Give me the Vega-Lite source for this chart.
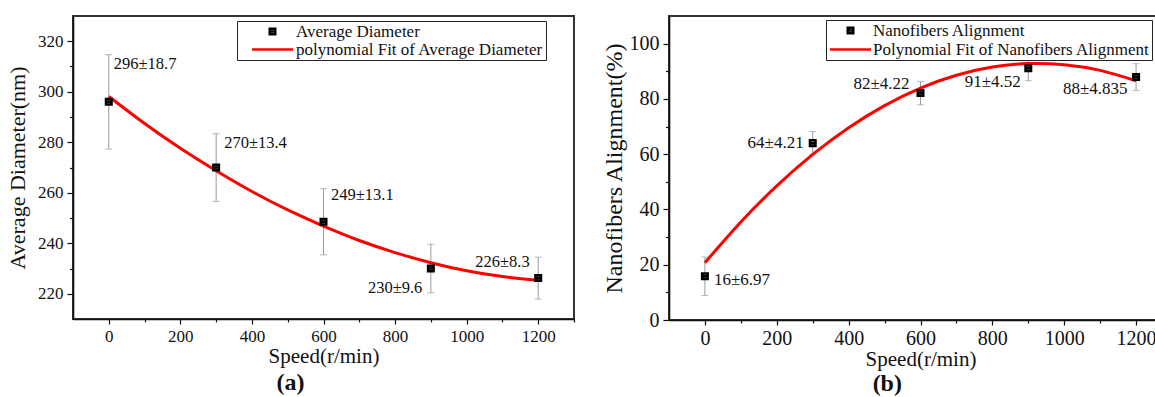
{
  "$schema": "https://vega.github.io/schema/vega-lite/v6.json",
  "background": "white",
  "padding": {"left": 5, "top": 15, "right": 0, "bottom": 0},
  "spacing": 24,
  "resolve": {"scale": {"shape": "independent", "color": "independent"}, "legend": {"shape": "independent", "color": "independent"}},
  "config": {
    "font": "Liberation Serif",
    "view": {"stroke": "#333", "strokeWidth": 2},
    "axis": {"grid": false, "domainColor": "#111", "domainWidth": 1.6, "tickColor": "#111", "tickWidth": 1.2, "labelColor": "#111", "titleColor": "#111", "titleFontWeight": "normal", "labelFont": "Liberation Serif", "titleFont": "Liberation Serif", "labelFlush": false, "labelOverlap": false},
    "title": {"font": "Liberation Serif", "color": "#111"}
  },
  "datasets": {
    "diam": [
      {"speed": 0, "diameter": 296, "err": 18.7, "label": "296±18.7", "series": "Average Diameter"},
      {"speed": 300, "diameter": 270, "err": 13.4, "label": "270±13.4", "series": "Average Diameter"},
      {"speed": 600, "diameter": 248.5, "err": 13.1, "label": "249±13.1", "series": "Average Diameter"},
      {"speed": 900, "diameter": 230, "err": 9.6, "label": "230±9.6", "series": "Average Diameter"},
      {"speed": 1200, "diameter": 226.2, "err": 8.3, "label": "226±8.3", "series": "Average Diameter"}
    ],
    "diamfit": [
      {"speed": 0, "diameter": 298.1},
      {"speed": 100, "diameter": 287.4},
      {"speed": 200, "diameter": 277.6},
      {"speed": 300, "diameter": 268.7},
      {"speed": 400, "diameter": 260.5},
      {"speed": 500, "diameter": 253.2},
      {"speed": 600, "diameter": 246.8},
      {"speed": 700, "diameter": 241.1},
      {"speed": 800, "diameter": 236.3},
      {"speed": 900, "diameter": 232.3},
      {"speed": 1000, "diameter": 229.1},
      {"speed": 1100, "diameter": 226.8},
      {"speed": 1200, "diameter": 225.3}
    ],
    "align": [
      {"speed": 0, "alignment": 15.8, "err": 6.97, "label": "16±6.97", "series": "Nanofibers Alignment"},
      {"speed": 300, "alignment": 64, "err": 4.21, "label": "64±4.21", "series": "Nanofibers Alignment"},
      {"speed": 600, "alignment": 82.1, "err": 4.22, "label": "82±4.22", "series": "Nanofibers Alignment"},
      {"speed": 900, "alignment": 91.1, "err": 4.52, "label": "91±4.52", "series": "Nanofibers Alignment"},
      {"speed": 1200, "alignment": 87.9, "err": 4.835, "label": "88±4.835", "series": "Nanofibers Alignment"}
    ],
    "alignfit": [
      {"speed": 0, "alignment": 20.75},
      {"speed": 100, "alignment": 35.48},
      {"speed": 200, "alignment": 48.53},
      {"speed": 300, "alignment": 59.9},
      {"speed": 400, "alignment": 69.59},
      {"speed": 500, "alignment": 77.59},
      {"speed": 600, "alignment": 83.92},
      {"speed": 700, "alignment": 88.56},
      {"speed": 800, "alignment": 91.52},
      {"speed": 900, "alignment": 92.8},
      {"speed": 1000, "alignment": 92.4},
      {"speed": 1100, "alignment": 90.32},
      {"speed": 1200, "alignment": 86.55}
    ]
  },
  "hconcat": [
    {
      "width": 501,
      "height": 303,
      "title": {"text": "(a)", "orient": "bottom", "anchor": "middle", "frame": "bounds", "fontSize": 24, "fontWeight": "bold", "offset": 4},
      "encoding": {
        "x": {"field": "speed", "type": "quantitative", "scale": {"domain": [-100, 1300], "nice": false, "zero": false},
          "axis": {"title": "Speed(r/min)", "format": "d", "values": [0, 100, 200, 300, 400, 500, 600, 700, 800, 900, 1000, 1100, 1200, 1300],
            "labelExpr": "datum.value % 200 === 0 && datum.value <= 1200 ? datum.label : ''",
            "tickSize": {"condition": {"test": "datum.value % 200 === 0", "value": 5}, "value": 3},
            "labelFontSize": 17, "labelPadding": 4, "titleFontSize": 21, "titlePadding": 1.5}},
        "y": {"field": "diameter", "type": "quantitative", "scale": {"domain": [210, 330], "nice": false, "zero": false},
          "axis": {"title": "Average Diameter(nm)", "values": [220, 230, 240, 250, 260, 270, 280, 290, 300, 310, 320],
            "labelExpr": "datum.value % 20 === 0 ? datum.label : ''",
            "tickSize": {"condition": {"test": "datum.value % 20 === 0", "value": 6}, "value": 3.5},
            "labelFontSize": 17, "labelPadding": 4, "titleFontSize": 22, "titlePadding": 8}}
      },
      "layer": [
        {"data": {"name": "diam"}, "mark": {"type": "errorbar", "ticks": {"size": 7}, "color": "#9a9a9a", "thickness": 1},
          "encoding": {"yError": {"field": "err"}}},
        {"data": {"name": "diamfit"}, "mark": {"type": "line", "color": "#ff0000", "strokeWidth": 3, "interpolate": "natural"}},
        {"data": {"name": "diam"}, "mark": {"type": "point", "filled": false, "strokeWidth": 2.5, "size": 105, "opacity": 1},
          "encoding": {
            "color": {"field": "series", "type": "nominal",
              "scale": {"domain": ["Average Diameter", "polynomial Fit of Average Diameter"], "range": ["#000000", "#ff0000"]}},
            "shape": {"field": "series", "type": "nominal",
            "scale": {"domain": ["Average Diameter", "polynomial Fit of Average Diameter"], "range": ["M-0.54,-0.54H0.54V0.54H-0.54Z M-0.54,0H0.54", "M-4,0H4"]},
            "legend": {"title": null, "orient": "none", "legendX": 164, "legendY": 5, "strokeColor": "#222", "fillColor": "white", "padding": 2,
              "labelFont": "Liberation Serif", "labelFontSize": 17, "labelColor": "#111", "labelLimit": 500,
              "symbolSize": 105, "symbolStrokeWidth": 2.5, "symbolOffset": 25, "labelOffset": 15, "rowPadding": 0}}}},
        {"data": {"name": "diam"}, "transform": [{"filter": "datum.speed === 0"}], "mark": {"type": "text", "align": "left", "baseline": "middle", "dx": 5, "dy": -38, "fontSize": 16.5, "color": "#111"}, "encoding": {"text": {"field": "label"}}},
        {"data": {"name": "diam"}, "transform": [{"filter": "datum.speed === 300"}], "mark": {"type": "text", "align": "left", "baseline": "middle", "dx": 8, "dy": -25, "fontSize": 16.5, "color": "#111"}, "encoding": {"text": {"field": "label"}}},
        {"data": {"name": "diam"}, "transform": [{"filter": "datum.speed === 600"}], "mark": {"type": "text", "align": "left", "baseline": "middle", "dx": 7.5, "dy": -27, "fontSize": 16.5, "color": "#111"}, "encoding": {"text": {"field": "label"}}},
        {"data": {"name": "diam"}, "transform": [{"filter": "datum.speed === 900"}], "mark": {"type": "text", "align": "right", "baseline": "middle", "dx": -8.5, "dy": 19, "fontSize": 16.5, "color": "#111"}, "encoding": {"text": {"field": "label"}}},
        {"data": {"name": "diam"}, "transform": [{"filter": "datum.speed === 1200"}], "mark": {"type": "text", "align": "right", "baseline": "middle", "dx": -8.5, "dy": -16, "fontSize": 16.5, "color": "#111"}, "encoding": {"text": {"field": "label"}}}
      ]
    },
    {
      "width": 503,
      "height": 304,
      "title": {"text": "(b)", "orient": "bottom", "anchor": "middle", "frame": "bounds", "fontSize": 24, "fontWeight": "bold", "offset": 3},
      "encoding": {
        "x": {"field": "speed", "type": "quantitative", "scale": {"domain": [-100, 1300], "nice": false, "zero": false},
          "axis": {"title": "Speed(r/min)", "format": "d", "values": [0, 100, 200, 300, 400, 500, 600, 700, 800, 900, 1000, 1100, 1200, 1300],
            "labelExpr": "datum.value % 200 === 0 && datum.value <= 1200 ? datum.label : ''",
            "tickSize": {"condition": {"test": "datum.value % 200 === 0", "value": 5}, "value": 3},
            "labelFontSize": 20, "labelPadding": 3, "titleFontSize": 21, "titlePadding": 0}},
        "y": {"field": "alignment", "type": "quantitative", "scale": {"domain": [0, 110], "nice": false, "zero": false},
          "axis": {"title": "Nanofibers Alignment(%)", "values": [0, 10, 20, 30, 40, 50, 60, 70, 80, 90, 100],
            "labelExpr": "datum.value % 20 === 0 ? datum.label : ''",
            "tickSize": {"condition": {"test": "datum.value % 20 === 0", "value": 6}, "value": 3.5},
            "labelFontSize": 20, "labelPadding": 4, "titleFontSize": 24, "titlePadding": 3}}
      },
      "layer": [
        {"data": {"name": "align"}, "mark": {"type": "errorbar", "ticks": {"size": 7}, "color": "#9a9a9a", "thickness": 1},
          "encoding": {"yError": {"field": "err"}}},
        {"data": {"name": "alignfit"}, "mark": {"type": "line", "color": "#ff0000", "strokeWidth": 3, "interpolate": "natural"}},
        {"data": {"name": "align"}, "mark": {"type": "point", "filled": false, "strokeWidth": 2.5, "size": 105, "opacity": 1},
          "encoding": {
            "color": {"field": "series", "type": "nominal",
              "scale": {"domain": ["Nanofibers Alignment", "Polynomial Fit of Nanofibers Alignment"], "range": ["#000000", "#ff0000"]}},
            "shape": {"field": "series", "type": "nominal",
            "scale": {"domain": ["Nanofibers Alignment", "Polynomial Fit of Nanofibers Alignment"], "range": ["M-0.54,-0.54H0.54V0.54H-0.54Z M-0.54,0H0.54", "M-4,0H4"]},
            "legend": {"title": null, "orient": "none", "legendX": 157, "legendY": 4, "strokeColor": "#222", "fillColor": "white", "padding": 2,
              "labelFont": "Liberation Serif", "labelFontSize": 17, "labelColor": "#111", "labelLimit": 500,
              "symbolSize": 105, "symbolStrokeWidth": 2.5, "symbolOffset": 14, "labelOffset": 14, "rowPadding": 1}}}},
        {"data": {"name": "align"}, "transform": [{"filter": "datum.speed === 0"}], "mark": {"type": "text", "align": "left", "baseline": "middle", "dx": 9, "dy": 4, "fontSize": 17, "color": "#111"}, "encoding": {"text": {"field": "label"}}},
        {"data": {"name": "align"}, "transform": [{"filter": "datum.speed === 300"}], "mark": {"type": "text", "align": "right", "baseline": "middle", "dx": -9, "dy": 0, "fontSize": 17, "color": "#111"}, "encoding": {"text": {"field": "label"}}},
        {"data": {"name": "align"}, "transform": [{"filter": "datum.speed === 600"}], "mark": {"type": "text", "align": "right", "baseline": "middle", "dx": -11, "dy": -9, "fontSize": 17, "color": "#111"}, "encoding": {"text": {"field": "label"}}},
        {"data": {"name": "align"}, "transform": [{"filter": "datum.speed === 900"}], "mark": {"type": "text", "align": "right", "baseline": "middle", "dx": -7.5, "dy": 13.5, "fontSize": 17, "color": "#111"}, "encoding": {"text": {"field": "label"}}},
        {"data": {"name": "align"}, "transform": [{"filter": "datum.speed === 1200"}], "mark": {"type": "text", "align": "right", "baseline": "middle", "dx": -8.5, "dy": 12, "fontSize": 17, "color": "#111"}, "encoding": {"text": {"field": "label"}}}
      ]
    }
  ]
}
